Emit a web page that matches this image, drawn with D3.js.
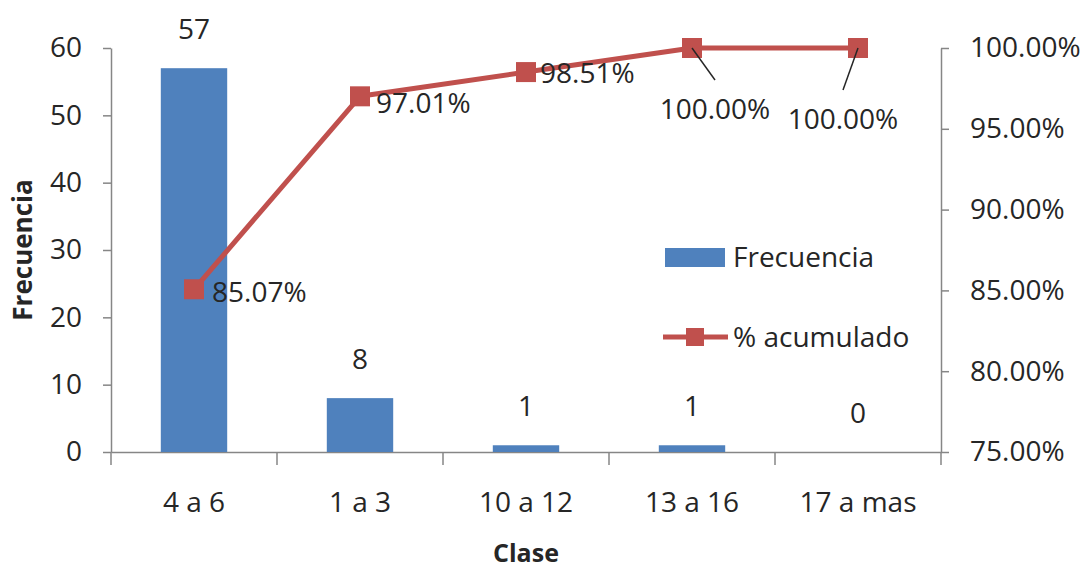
<html>
<head>
<script src="https://d3js.org/d3.v7.min.js"></script>
<style>
  body { margin: 0; background: #fff; }
  text { font-family: "Open Sans", sans-serif; fill: #262626; }
</style>
</head>
<body>
<svg id="chart" width="1083" height="573"></svg>
<script>
// data
var categories = ["4 a 6", "1 a 3", "10 a 12", "13 a 16", "17 a mas"];
var frecuencia = [57, 8, 1, 1, 0];
var acumulado = [85.07, 97.01, 98.51, 100.00, 100.00];
var leftTicks = [0, 10, 20, 30, 40, 50, 60];
var rightTicks = [75, 80, 85, 90, 95, 100];

// label placement for the % labels (dx, dy from the point, anchor, leader line)
var pctLabelPos = [
  {dx: 18, dy: 3, anchor: "start"},
  {dx: 16, dy: 7, anchor: "start"},
  {dx: 14, dy: 1, anchor: "start"},
  {dx: 23, dy: 61, anchor: "middle", lead: [0, 0, 23, 32]},
  {dx: -15, dy: 71, anchor: "middle", lead: [0, 0, -15, 42]}
];

var blue = "#4F81BD", red = "#C0504D", axisCol = "#868686";
var fs = 28;

var svg = d3.select("#chart");
var plotL = 111, plotR = 941, plotT = 48, plotB = 452;

var x = d3.scaleBand().domain(categories).range([plotL, plotR])
  .paddingInner(0.6).paddingOuter(0.3);
var yL = d3.scaleLinear().domain([0, 60]).range([plotB, plotT]);
var yR = d3.scaleLinear().domain([75, 100]).range([plotB, plotT]);

// left axis
var gL = svg.append("g").attr("transform", "translate(" + plotL + ",0)")
  .call(d3.axisLeft(yL).tickValues(leftTicks).tickSize(8).tickSizeOuter(0).tickPadding(21));
// right axis
var gR = svg.append("g").attr("transform", "translate(" + plotR + ",0)")
  .call(d3.axisRight(yR).tickValues(rightTicks).tickSize(8).tickSizeOuter(0).tickPadding(21)
    .tickFormat(function(d){ return d.toFixed(2) + "%"; }));
// bottom axis (ticks at band boundaries)
var gB = svg.append("g").attr("transform", "translate(0," + plotB + ")")
  .call(d3.axisBottom(x).tickSize(0).tickPadding(50));
var bounds = categories.map(function(c){ return x(c) - x.step() * x.paddingInner() / 2; });
bounds.push(plotR);
bounds[0] = plotL;
gB.selectAll(".btick").data(bounds).enter().append("line")
  .attr("x1", function(d){ return d; }).attr("x2", function(d){ return d; })
  .attr("y1", 0).attr("y2", 13);

[gL, gR, gB].forEach(function(g){
  g.selectAll("path, line").attr("stroke", axisCol).attr("stroke-width", 1.5);
  g.selectAll("text").attr("font-size", fs).attr("font-family", null).style("fill", "#262626");
});
gB.selectAll(".tick text").attr("dy", "0.35em");

// bars
svg.selectAll("rect.bar").data(frecuencia).enter().append("rect")
  .attr("class", "bar")
  .attr("x", function(d, i){ return x(categories[i]); })
  .attr("width", x.bandwidth())
  .attr("y", function(d){ return yL(d); })
  .attr("height", function(d){ return yL(0) - yL(d); })
  .attr("fill", blue);

svg.selectAll("text.blab").data(frecuencia).enter().append("text")
  .attr("class", "blab")
  .attr("x", function(d, i){ return x(categories[i]) + x.bandwidth() / 2; })
  .attr("y", function(d){ return yL(d) - 39; })
  .attr("dy", "0.35em")
  .attr("text-anchor", "middle")
  .attr("font-size", fs)
  .text(function(d){ return d; });

// cumulative line
var line = d3.line()
  .x(function(d, i){ return x(categories[i]) + x.bandwidth() / 2; })
  .y(function(d){ return yR(d); });
svg.append("path").datum(acumulado).attr("d", line)
  .attr("fill", "none").attr("stroke", red).attr("stroke-width", 5).attr("stroke-linejoin", "round");

svg.selectAll("rect.mk").data(acumulado).enter().append("rect")
  .attr("class", "mk")
  .attr("x", function(d, i){ return x(categories[i]) + x.bandwidth() / 2 - 10; })
  .attr("y", function(d){ return yR(d) - 10; })
  .attr("width", 20).attr("height", 20)
  .attr("fill", red);

acumulado.forEach(function(d, i){
  var px = x(categories[i]) + x.bandwidth() / 2, py = yR(d), p = pctLabelPos[i];
  if (p.lead) {
    svg.append("line")
      .attr("x1", px + p.lead[0]).attr("y1", py + p.lead[1])
      .attr("x2", px + p.lead[2]).attr("y2", py + p.lead[3])
      .attr("stroke", "#262626").attr("stroke-width", 1.5);
  }
  svg.append("text")
    .attr("x", px + p.dx).attr("y", py + p.dy).attr("dy", "0.35em")
    .attr("text-anchor", p.anchor)
    .attr("font-size", fs)
    .text(d.toFixed(2) + "%");
});

// legend
var lg = svg.append("g");
lg.append("rect").attr("x", 665).attr("y", 248).attr("width", 60).attr("height", 19).attr("fill", blue);
lg.append("text").attr("x", 733).attr("y", 257).attr("dy", "0.35em").attr("font-size", fs).text("Frecuencia");
lg.append("line").attr("x1", 663).attr("x2", 728).attr("y1", 337).attr("y2", 337)
  .attr("stroke", red).attr("stroke-width", 5);
lg.append("rect").attr("x", 686).attr("y", 328).attr("width", 18).attr("height", 18).attr("fill", red);
lg.append("text").attr("x", 733).attr("y", 337).attr("dy", "0.35em").attr("font-size", fs).text("% acumulado");

// axis titles
svg.append("text")
  .attr("transform", "translate(23,250) rotate(-90)")
  .attr("text-anchor", "middle").attr("dy", "0.35em")
  .attr("font-size", 26).attr("font-weight", "bold")
  .text("Frecuencia");
svg.append("text")
  .attr("x", (plotL + plotR) / 2).attr("y", 553).attr("dy", "0.35em")
  .attr("text-anchor", "middle")
  .attr("font-size", 25).attr("font-weight", "bold")
  .text("Clase");
</script>
</body>
</html>
